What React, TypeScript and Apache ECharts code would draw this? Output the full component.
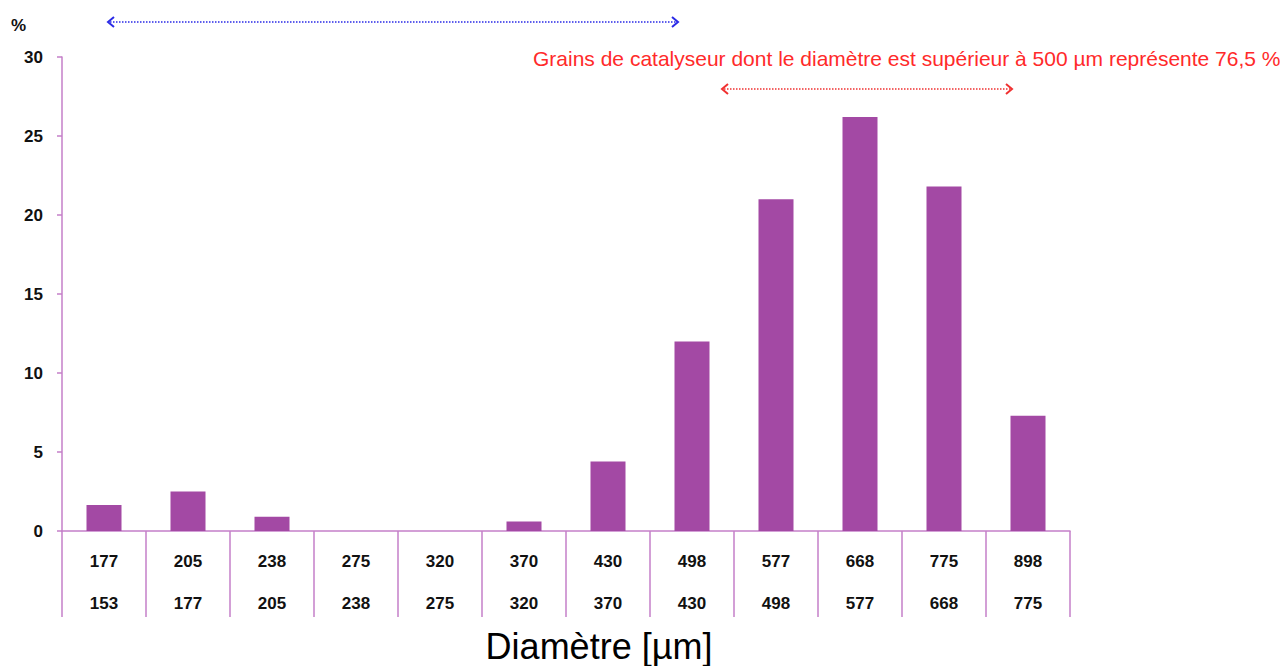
import React, { useEffect, useRef } from "react";
import * as echarts from "echarts";

const upperBounds = ["177", "205", "238", "275", "320", "370", "430", "498", "577", "668", "775", "898"];
const lowerBounds = ["153", "177", "205", "238", "275", "320", "370", "430", "498", "577", "668", "775"];
const percentValues = [1.65, 2.5, 0.9, 0, 0, 0.6, 4.4, 12.0, 21.0, 26.2, 21.8, 7.3];
const yTicks = { min: 0, max: 30, interval: 5 };
const annotationText = "Grains de catalyseur dont le diamètre est supérieur à 500 µm représente 76,5 %";
const xAxisTitle = "Diamètre [µm]";
const yAxisTitle = "%";

const AXIS_COLOR = "#c47fc9";
const BAR_COLOR = "#a349a4";
const FONT = "'Liberation Sans', Arial, sans-serif";

function arrow(x1: number, x2: number, y: number, color: string) {
  return {
    type: "group",
    children: [
      {
        type: "line",
        shape: { x1: x1 + 2, y1: y, x2: x2 - 2, y2: y },
        style: { stroke: color, lineWidth: 1.5, lineDash: [1.5, 1.5] },
      },
      {
        type: "polyline",
        shape: { points: [[x1 + 6, y - 5], [x1, y], [x1 + 6, y + 5]] },
        style: { stroke: color, lineWidth: 2, fill: null },
      },
      {
        type: "polyline",
        shape: { points: [[x2 - 6, y - 5], [x2, y], [x2 - 6, y + 5]] },
        style: { stroke: color, lineWidth: 2, fill: null },
      },
    ],
  };
}

export default function App() {
  const ref = useRef<HTMLDivElement>(null);
  useEffect(() => {
    if (!ref.current) return;
    const chart = echarts.init(ref.current, null, { renderer: "svg" });
    chart.setOption({
      animation: false,
      backgroundColor: "#ffffff",
      textStyle: { fontFamily: FONT },
      grid: { left: 62, right: 214, top: 57, bottom: 135, containLabel: false, outerBoundsMode: "none" },
      xAxis: {
        type: "category",
        data: upperBounds.map((u, i) => u + "\n" + lowerBounds[i]),
        boundaryGap: true,
        axisLine: { show: true, lineStyle: { color: AXIS_COLOR, width: 1.5 } },
        axisTick: { show: true, length: 86, alignWithLabel: false, lineStyle: { color: AXIS_COLOR, width: 1.5 } },
        axisLabel: {
          color: "#111",
          fontWeight: "bold",
          fontSize: 17,
          lineHeight: 42,
          margin: 9,
          fontFamily: FONT,
        },
        name: xAxisTitle,
        nameLocation: "middle",
        nameGap: 97,
        nameTextStyle: { fontSize: 36, color: "#000", fontFamily: FONT, padding: [0, 0, 0, 66] },
      },
      yAxis: {
        type: "value",
        min: yTicks.min,
        max: yTicks.max,
        interval: yTicks.interval,
        splitLine: { show: false },
        axisLine: { show: true, lineStyle: { color: AXIS_COLOR, width: 1.5 } },
        axisTick: { show: true, length: 5, lineStyle: { color: AXIS_COLOR, width: 1.5 } },
        axisLabel: { color: "#111", fontWeight: "bold", fontSize: 17, margin: 19, fontFamily: FONT },
      },
      series: [
        {
          type: "bar",
          data: percentValues,
          barWidth: 35,
          itemStyle: { color: BAR_COLOR },
        },
      ],
      graphic: [
        {
          type: "text",
          x: 11,
          y: 25,
          style: { text: yAxisTitle, fontSize: 17, fontWeight: "bold", fill: "#111", fontFamily: FONT, verticalAlign: "middle" },
        },
        {
          type: "text",
          x: 533,
          y: 58,
          style: {
            text: annotationText,
            fontSize: 21,
            fill: "#ff2a2a",
            fontFamily: FONT,
            verticalAlign: "middle",
            align: "left",
          },
        },
        arrow(108, 678, 22, "#2a2ae6"),
        arrow(722, 1012, 89, "#f03030"),
      ],
    });
    return () => chart.dispose();
  }, []);
  return (
    <div
      ref={ref}
      style={{ position: "fixed", left: 0, top: 0, width: 1284, height: 666, background: "#fff" }}
    />
  );
}
